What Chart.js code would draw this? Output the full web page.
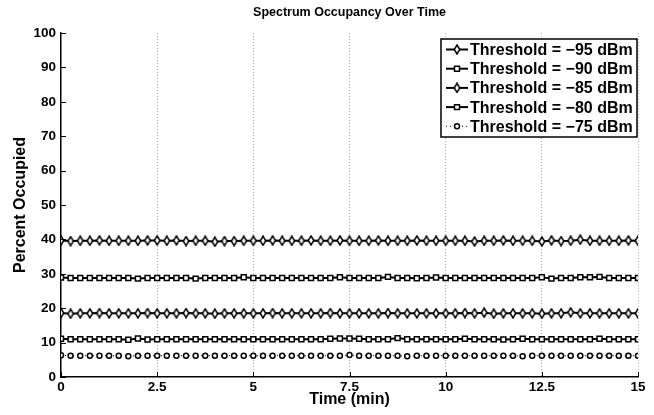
<!DOCTYPE html>
<html lang="en">
<head>
  <meta charset="utf-8">
  <title>Spectrum Occupancy Over Time</title>
  <script src="https://cdn.jsdelivr.net/npm/chart.js"></script>
  <style>
    body { margin: 0; background: #fff; }
    #wrap { position: relative; width: 654px; height: 415px; }
  </style>
</head>
<body>
<div id="wrap">
  <canvas id="occChart" width="654" height="415"></canvas>
</div>

<script>
  // time axis (minutes), one sample every 15 s
  const times = [0, 0.25, 0.5, 0.75, 1, 1.25, 1.5, 1.75, 2, 2.25, 2.5, 2.75, 3, 3.25, 3.5, 3.75,
    4, 4.25, 4.5, 4.75, 5, 5.25, 5.5, 5.75, 6, 6.25, 6.5, 6.75, 7, 7.25, 7.5, 7.75,
    8, 8.25, 8.5, 8.75, 9, 9.25, 9.5, 9.75, 10, 10.25, 10.5, 10.75, 11, 11.25, 11.5, 11.75,
    12, 12.25, 12.5, 12.75, 13, 13.25, 13.5, 13.75, 14, 14.25, 14.5, 14.75, 15];

  const labels = ['Threshold = \u221295 dBm', 'Threshold = \u221290 dBm', 'Threshold = \u221285 dBm',
    'Threshold = \u221280 dBm', 'Threshold = \u221275 dBm'];

  const occ95 = [39.7, 39.5, 39.6, 39.6, 39.7, 39.6, 39.6, 39.6, 39.6, 39.7, 39.7, 39.6, 39.7, 39.5, 39.6, 39.6,
    39.3, 39.5, 39.5, 39.6, 39.6, 39.6, 39.7, 39.6, 39.6, 39.6, 39.7, 39.6, 39.6, 39.7, 39.6,
    39.6, 39.6, 39.7, 39.6, 39.6, 39.6, 39.7, 39.6, 39.6, 39.6, 39.6, 39.6, 39.4, 39.6, 39.6,
    39.7, 39.6, 39.6, 39.6, 39.4, 39.7, 39.5, 39.6, 39.9, 39.6, 39.6, 39.6, 39.6, 39.7, 39.6];
  const occ90 = [28.9, 28.8, 28.8, 28.8, 28.8, 28.8, 28.8, 28.8, 28.6, 28.8, 28.8, 28.8, 28.8, 28.8, 28.6, 28.8,
    28.8, 28.8, 28.8, 29.0, 28.8, 28.8, 28.8, 28.8, 28.8, 28.8, 28.8, 28.8, 28.8, 29.0, 28.8,
    28.8, 28.8, 28.8, 29.1, 28.8, 28.8, 28.7, 28.8, 28.9, 28.8, 28.8, 28.8, 28.8, 28.8, 28.8,
    28.8, 28.8, 28.8, 28.8, 29.0, 28.6, 28.8, 28.8, 29.0, 29.0, 29.1, 28.8, 28.8, 28.8, 28.8];
  const occ85 = [18.6, 18.4, 18.5, 18.5, 18.6, 18.5, 18.5, 18.5, 18.5, 18.6, 18.5, 18.5, 18.5, 18.6, 18.5, 18.5,
    18.4, 18.5, 18.5, 18.5, 18.5, 18.5, 18.6, 18.5, 18.5, 18.5, 18.5, 18.5, 18.6, 18.5, 18.5,
    18.5, 18.5, 18.5, 18.6, 18.5, 18.5, 18.5, 18.5, 18.5, 18.5, 18.5, 18.6, 18.5, 18.7, 18.4,
    18.5, 18.5, 18.5, 18.5, 18.4, 18.5, 18.5, 18.8, 18.5, 18.5, 18.5, 18.5, 18.5, 18.5, 18.5];
  const occ80 = [11.1, 11.0, 11.0, 11.0, 11.0, 11.0, 11.0, 10.8, 11.2, 10.9, 11.0, 11.0, 11.0, 11.0, 11.0, 11.0,
    11.0, 11.0, 11.0, 11.0, 11.0, 11.0, 11.0, 11.0, 11.0, 11.0, 11.0, 11.0, 11.1, 11.2, 11.2,
    11.1, 11.0, 11.0, 11.0, 11.3, 11.0, 11.0, 11.0, 11.0, 11.0, 11.0, 11.1, 11.0, 11.0, 11.0,
    10.9, 11.0, 11.1, 11.0, 11.0, 11.0, 11.0, 11.0, 11.0, 11.0, 11.1, 11.0, 11.0, 11.0, 11.0];
  const occ75 = [6.3, 6.2, 6.2, 6.2, 6.2, 6.2, 6.2, 6.0, 6.2, 6.2, 6.2, 6.2, 6.2, 6.2, 6.2, 6.2,
    6.2, 6.2, 6.2, 6.2, 6.2, 6.2, 6.2, 6.2, 6.2, 6.2, 6.2, 6.2, 6.2, 6.2, 6.4,
    6.2, 6.2, 6.2, 6.2, 6.2, 6.0, 6.2, 6.2, 6.2, 6.2, 6.2, 6.2, 6.2, 6.2, 6.2,
    6.2, 6.2, 6.0, 6.2, 6.2, 6.2, 6.2, 6.2, 6.2, 6.2, 6.2, 6.2, 6.2, 6.2, 6.2];

  const xTicks = [0, 2.5, 5, 7.5, 10, 12.5, 15];

  const FONT = 'Liberation Sans, Arial, Helvetica, sans-serif';

  // narrow matlab style diamond marker
  const diamond = document.createElement('canvas');
  diamond.width = 8;
  diamond.height = 11;
  (function () {
    const c = diamond.getContext('2d');
    c.beginPath();
    c.moveTo(4, 1);
    c.lineTo(6.8, 5.5);
    c.lineTo(4, 10);
    c.lineTo(1.2, 5.5);
    c.closePath();
    c.fillStyle = '#fff';
    c.fill();
    c.lineWidth = 1.5;
    c.strokeStyle = '#000';
    c.stroke();
  })();

  function pts(vals) {
    return vals.map((v, i) => ({ x: times[i], y: v }));
  }

  function series(label, vals, style, radius, dashed) {
    return {
      label: label,
      data: pts(vals),
      borderColor: '#000',
      borderWidth: dashed ? 1 : 2,
      borderDash: dashed ? [1, 3] : [],
      pointStyle: style,
      pointRadius: radius,
      pointBorderWidth: 1.5,
      pointBorderColor: '#000',
      pointBackgroundColor: '#fff',
      tension: 0
    };
  }

  // matlab-ish bits: title over plot area, inward ticks, boxed legend
  const matlabLook = {
    id: 'matlabLook',
    afterDraw(chart) {
      const ctx = chart.ctx;
      const area = chart.chartArea;
      const xs = chart.scales.x, ys = chart.scales.y;
      ctx.save();

      ctx.fillStyle = '#000';
      ctx.font = 'bold 12.5px ' + FONT;
      ctx.textAlign = 'center';
      ctx.textBaseline = 'middle';
      ctx.fillText('Spectrum Occupancy Over Time', (area.left + area.right) / 2, 13);

      ctx.strokeStyle = '#000';
      ctx.lineWidth = 1;
      ctx.beginPath();
      ys.ticks.forEach(t => {
        const y = Math.round(ys.getPixelForValue(t.value)) + 0.5;
        ctx.moveTo(area.left, y);
        ctx.lineTo(area.left + 5, y);
      });
      xs.ticks.forEach(t => {
        const x = Math.round(xs.getPixelForValue(t.value)) + 0.5;
        ctx.moveTo(x, area.bottom);
        ctx.lineTo(x, area.bottom - 5);
      });
      ctx.stroke();

      // legend box
      const bw = 196, bh = 98;
      const bx = area.right - 1 - bw, by = area.top + 6;
      ctx.fillStyle = '#fff';
      ctx.fillRect(bx, by, bw, bh);
      ctx.strokeStyle = '#000';
      ctx.lineWidth = 1.5;
      ctx.strokeRect(bx, by, bw, bh);

      chart.data.datasets.forEach((ds, i) => {
        const cy = by + 10.5 + i * 19.2;
        ctx.strokeStyle = '#000';
        ctx.lineWidth = ds.borderWidth;
        ctx.setLineDash(ds.borderDash);
        ctx.beginPath();
        ctx.moveTo(bx + 5, cy);
        ctx.lineTo(bx + 27, cy);
        ctx.stroke();
        ctx.setLineDash([]);
        ctx.fillStyle = '#fff';
        ctx.lineWidth = 1.5;
        Chart.helpers.drawPoint(ctx, { pointStyle: ds.pointStyle, radius: ds.pointRadius, rotation: 0, borderWidth: 1.5 },
          bx + 16, cy);
        ctx.fillStyle = '#000';
        ctx.font = 'bold 16px ' + FONT;
        ctx.textAlign = 'left';
        ctx.fillText(ds.label, bx + 29, cy + 1);
      });

      ctx.restore();
    }
  };

  new Chart(document.getElementById('occChart'), {
    type: 'line',
    data: {
      datasets: [
        series(labels[0], occ95, diamond, 4, false),
        series(labels[1], occ90, 'rect', 3.5, false),
        series(labels[2], occ85, diamond, 4, false),
        series(labels[3], occ80, 'rect', 3.5, false),
        series(labels[4], occ75, 'circle', 2.5, true)
      ]
    },
    options: {
      responsive: false,
      animation: false,
      devicePixelRatio: 1,
      layout: { padding: { top: 33, right: 16, left: 0, bottom: 0 } },
      plugins: {
        legend: { display: false },
        tooltip: { enabled: false },
        title: { display: false }
      },
      scales: {
        x: {
          type: 'linear',
          min: 0,
          max: 15,
          afterBuildTicks: s => { s.ticks = xTicks.map(v => ({ value: v })); },
          afterFit: s => { s.height = 38; },
          grid: {
            drawTicks: false,
            lineWidth: 1,
            color: c => (c.tick && c.tick.value === 0) ? 'rgba(0,0,0,0)' : '#b4b4b4'
          },
          border: { display: true, color: '#000', width: 1.5, dash: [1, 2] },
          ticks: {
            padding: 2,
            color: '#000',
            maxRotation: 0,
            font: { family: FONT, size: 13.5, weight: 'bold' }
          },
          title: {
            display: true,
            text: 'Time (min)',
            color: '#000',
            padding: { top: 0, bottom: 6 },
            font: { family: FONT, size: 16, weight: 'bold' }
          }
        },
        y: {
          min: 0,
          max: 100,
          afterFit: s => { s.width = 61; },
          grid: { display: false, drawTicks: false },
          border: { display: true, color: '#000', width: 1.5 },
          ticks: {
            stepSize: 10,
            padding: 5,
            color: '#000',
            font: { family: FONT, size: 13.5, weight: 'bold' }
          },
          title: {
            display: true,
            text: 'Percent Occupied',
            color: '#000',
            padding: { top: 11, bottom: 0 },
            font: { family: FONT, size: 16, weight: 'bold' }
          }
        }
      }
    },
    plugins: [matlabLook]
  });
</script>
</body>
</html>
